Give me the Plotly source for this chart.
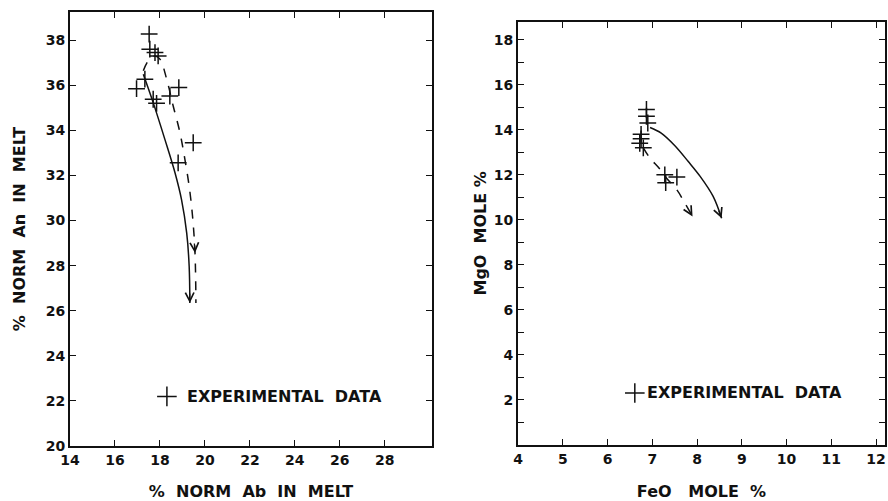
import plotly.graph_objects as go

# ---------------- data: left panel (% norm Ab vs % norm An) ----------------
ab_exp = [17.52, 17.55, 17.78, 17.92, 16.96, 17.33, 17.70, 17.85, 18.44, 18.84, 19.48, 18.81]
an_exp = [38.27, 37.60, 37.45, 37.30, 35.85, 36.27, 35.38, 35.20, 35.52, 35.90, 33.45, 32.56]

ab_solid = [17.26, 17.70, 18.22, 18.67, 18.96, 19.19, 19.30, 19.33]
an_solid = [36.49, 35.23, 33.60, 32.12, 30.93, 29.45, 27.97, 26.34]

ab_dash = [17.26, 17.48, 17.78, 18.00, 18.30, 18.59, 18.89, 19.11, 19.30, 19.45, 19.56, 19.60]
an_dash = [36.64, 37.08, 37.30, 37.16, 36.27, 35.08, 33.90, 32.71, 31.52, 30.19, 28.56, 26.34]

ab_ticks = [14, 16, 18, 20, 22, 24, 26, 28]
an_ticks = [20, 22, 24, 26, 28, 30, 32, 34, 36, 38]

# ---------------- data: right panel (FeO vs MgO) ----------------
feo_exp = [6.87, 6.87, 6.90, 6.75, 6.72, 6.80, 6.75, 7.28, 7.30, 7.55]
mgo_exp = [14.90, 14.60, 14.30, 13.80, 13.40, 13.20, 13.60, 12.00, 11.65, 11.90]

feo_solid = [6.95, 7.20, 7.50, 7.80, 8.07, 8.36, 8.55]
mgo_solid = [14.10, 13.85, 13.30, 12.60, 11.93, 11.04, 10.07]

feo_dash = [6.80, 6.95, 7.15, 7.32, 7.55, 7.73, 7.90]
mgo_dash = [13.20, 12.74, 12.30, 11.85, 11.33, 10.74, 10.15]

feo_ticks = [4, 5, 6, 7, 8, 9, 10, 11, 12]
mgo_ticks = [2, 4, 6, 8, 10, 12, 14, 16, 18]

legend_text = "EXPERIMENTAL  DATA"

FONT = "DejaVu Sans"
INK = "#111111"

fig = go.Figure()

def cross_trace(x, y, xa, ya):
    return go.Scatter(x=x, y=y, mode="markers", xaxis=xa, yaxis=ya,
                      marker=dict(symbol="cross-thin", size=12,
                                  line=dict(color=INK, width=1.5)),
                      showlegend=False, hoverinfo="skip")

def curve(x, y, xa, ya, dash):
    return go.Scatter(x=x, y=y, mode="lines", xaxis=xa, yaxis=ya,
                      line=dict(color=INK, width=1.5, dash=dash, shape="spline"),
                      showlegend=False, hoverinfo="skip")

fig.add_trace(curve(ab_solid, an_solid, "x", "y", "solid"))
fig.add_trace(curve(ab_dash, an_dash, "x", "y", "dash"))
fig.add_trace(cross_trace(ab_exp, an_exp, "x", "y"))
fig.add_trace(curve(feo_solid, mgo_solid, "x2", "y2", "solid"))
fig.add_trace(curve(feo_dash, mgo_dash, "x2", "y2", "dash"))
fig.add_trace(cross_trace(feo_exp, mgo_exp, "x2", "y2"))

# legend crosses (one per panel)
fig.add_trace(go.Scatter(x=[18.31], y=[22.2], mode="markers", xaxis="x", yaxis="y",
                         marker=dict(symbol="cross-thin", size=14, line=dict(color=INK, width=1.5)),
                         showlegend=False, hoverinfo="skip"))
fig.add_trace(go.Scatter(x=[6.61], y=[2.31], mode="markers", xaxis="x2", yaxis="y2",
                         marker=dict(symbol="cross-thin", size=14, line=dict(color=INK, width=1.5)),
                         showlegend=False, hoverinfo="skip"))

annotations = []

def arrow(xs, ys, i, xref, yref, frac=0.35):
    # arrowhead at point i, pointing along the curve direction
    x1, y1 = xs[i], ys[i]
    x0, y0 = xs[i - 1], ys[i - 1]
    tx = x1 + frac * (x0 - x1)
    ty = y1 + frac * (y0 - y1)
    return dict(x=x1, y=y1, ax=tx, ay=ty, xref=xref, yref=yref,
                axref=xref, ayref=yref, text="", showarrow=True,
                arrowhead=5, arrowsize=1.3, arrowwidth=1.3, arrowcolor=INK)

annotations.append(arrow(ab_solid, an_solid, len(ab_solid) - 1, "x", "y", 0.3))
annotations.append(arrow(ab_dash, an_dash, len(ab_dash) - 2, "x", "y", 0.3))
annotations.append(arrow(feo_solid, mgo_solid, len(feo_solid) - 1, "x2", "y2", 0.4))
annotations.append(arrow(feo_dash, mgo_dash, len(feo_dash) - 1, "x2", "y2", 0.4))

annotations.append(dict(x=19.1, y=22.2, xref="x", yref="y", text=legend_text,
                        showarrow=False, xanchor="left", yanchor="middle",
                        font=dict(family=FONT, size=16, color=INK, weight="bold")))
annotations.append(dict(x=6.84, y=2.31, xref="x2", yref="y2", text=legend_text,
                        showarrow=False, xanchor="left", yanchor="middle",
                        font=dict(family=FONT, size=16, color=INK, weight="bold")))

TITLE_FONT = dict(family=FONT, size=16, color=INK, weight="bold")

axis_common = dict(showgrid=False, zeroline=False, showline=True, linecolor=INK,
                   linewidth=2, mirror="allticks", ticks="inside", ticklen=6,
                   tickwidth=1.3, tickcolor=INK, automargin=False,
                   tickfont=dict(family=FONT, size=14, color=INK, weight="bold"))

fig.update_layout(
    width=888, height=501,
    margin=dict(l=0, r=0, t=0, b=0),
    paper_bgcolor="white", plot_bgcolor="white",
    showlegend=False,
    xaxis=dict(axis_common, domain=[70 / 888, 432 / 888], range=[14, 30.1],
               tickvals=ab_ticks, ticktext=[str(v) for v in ab_ticks],
               title=dict(text="%  NORM  Ab  IN  MELT", standoff=21, font=TITLE_FONT),
               anchor="y"),
    yaxis=dict(axis_common, domain=[1 - 446 / 501, 1 - 12 / 501], range=[20, 39.25],
               tickvals=an_ticks, ticktext=[str(v) for v in an_ticks],
               title=dict(text="%  NORM  An  IN  MELT", standoff=16, font=TITLE_FONT),
               anchor="x"),
    xaxis2=dict(axis_common, domain=[518 / 888, 885 / 888], range=[4, 12.2],
                tickvals=feo_ticks, ticktext=[str(v) for v in feo_ticks],
                title=dict(text="FeO   MOLE  %", standoff=21, font=TITLE_FONT),
                anchor="y2"),
    yaxis2=dict(axis_common, domain=[1 - 445 / 501, 1 - 21.7 / 501], range=[0, 18.8],
                tickvals=mgo_ticks, ticktext=[str(v) for v in mgo_ticks],
                minor=dict(dtick=1, tick0=0, ticks="inside", ticklen=6,
                           tickwidth=1.3, tickcolor=INK),
                title=dict(text="MgO  MOLE %", standoff=3, font=TITLE_FONT),
                anchor="x2"),
    annotations=annotations,
)

fig.write_html("out.html",
               config={"displayModeBar": False},
               post_script="document.body.style.margin='0';"
                           "document.body.style.overflow='hidden';")
